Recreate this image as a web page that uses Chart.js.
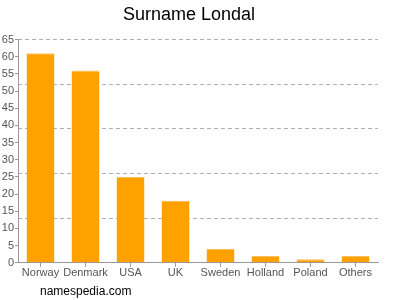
<!DOCTYPE html>
<html><head>
<script src="https://cdn.jsdelivr.net/npm/chart.js@4"></script>
<style>
html,body{margin:0;padding:0;background:#fff;}
#wrap{position:relative;width:400px;height:300px;}
#wm{position:absolute;left:40px;top:284px;font:12px "Liberation Sans",Arial,sans-serif;color:#000;}
</style>
</head><body>
<div id="wrap"><canvas id="c" width="400" height="300"></canvas><div id="wm">namespedia.com</div></div>
<script>
const categories = ["Norway","Denmark","USA","UK","Sweden","Holland","Poland","Others"];
const values = [61,56,25,18,4,2,1,2];
const yTickStep = 5;
const gridStep = 13;
const yMax = 65;

new Chart(document.getElementById('c'), {
  type: 'bar',
  data: { labels: categories, datasets: [{ data: values, backgroundColor: '#ffa200', borderColor:'#ffbe5c', borderWidth:{top:1,left:0,right:0,bottom:0}, barPercentage: 0.62, categoryPercentage: 1 }] },
  options: {
    responsive: false, animation: false,
    layout: { padding: { left: 0, right: 22, top: 0, bottom: 20 } },
    plugins: {
      legend: { display: false }, tooltip: { enabled: false },
      title: { display: true, text: 'Surname Londal', color: '#000', font: { family: '"Liberation Sans", Arial, sans-serif', size: 18, weight: 'normal' }, padding: { top: 4, bottom: 14 } }
    },
    scales: {
      x: {
        grid: { display: true, drawOnChartArea: false, offset: false, tickLength: 4, color: '#999' },
        border: { color: '#999' },
        ticks: { autoSkip: false, color: '#555', font: { family: '"Liberation Sans", Arial, sans-serif', size: 11 }, padding: 0, maxRotation: 0 }
      },
      y: {
        min: 0, max: yMax,
        afterFit: s => { s.width = 18; },
        grid: { display: true, drawOnChartArea: false, tickLength: 3, color: '#999' },
        border: { color: '#999' },
        ticks: { stepSize: yTickStep, color: '#555', font: { family: '"Liberation Sans", Arial, sans-serif', size: 11 }, padding: 1 }
      },
      y2: {
        position: 'left', min: 0, max: yMax,
        afterFit: s => { s.width = 0; },
        ticks: { display: false, stepSize: gridStep },
        grid: { color: '#b0b0b0', drawTicks: false, tickLength: 0 },
        border: { display: false, dash: [4,3] }
      }
    }
  }
});
</script>
</body></html>
